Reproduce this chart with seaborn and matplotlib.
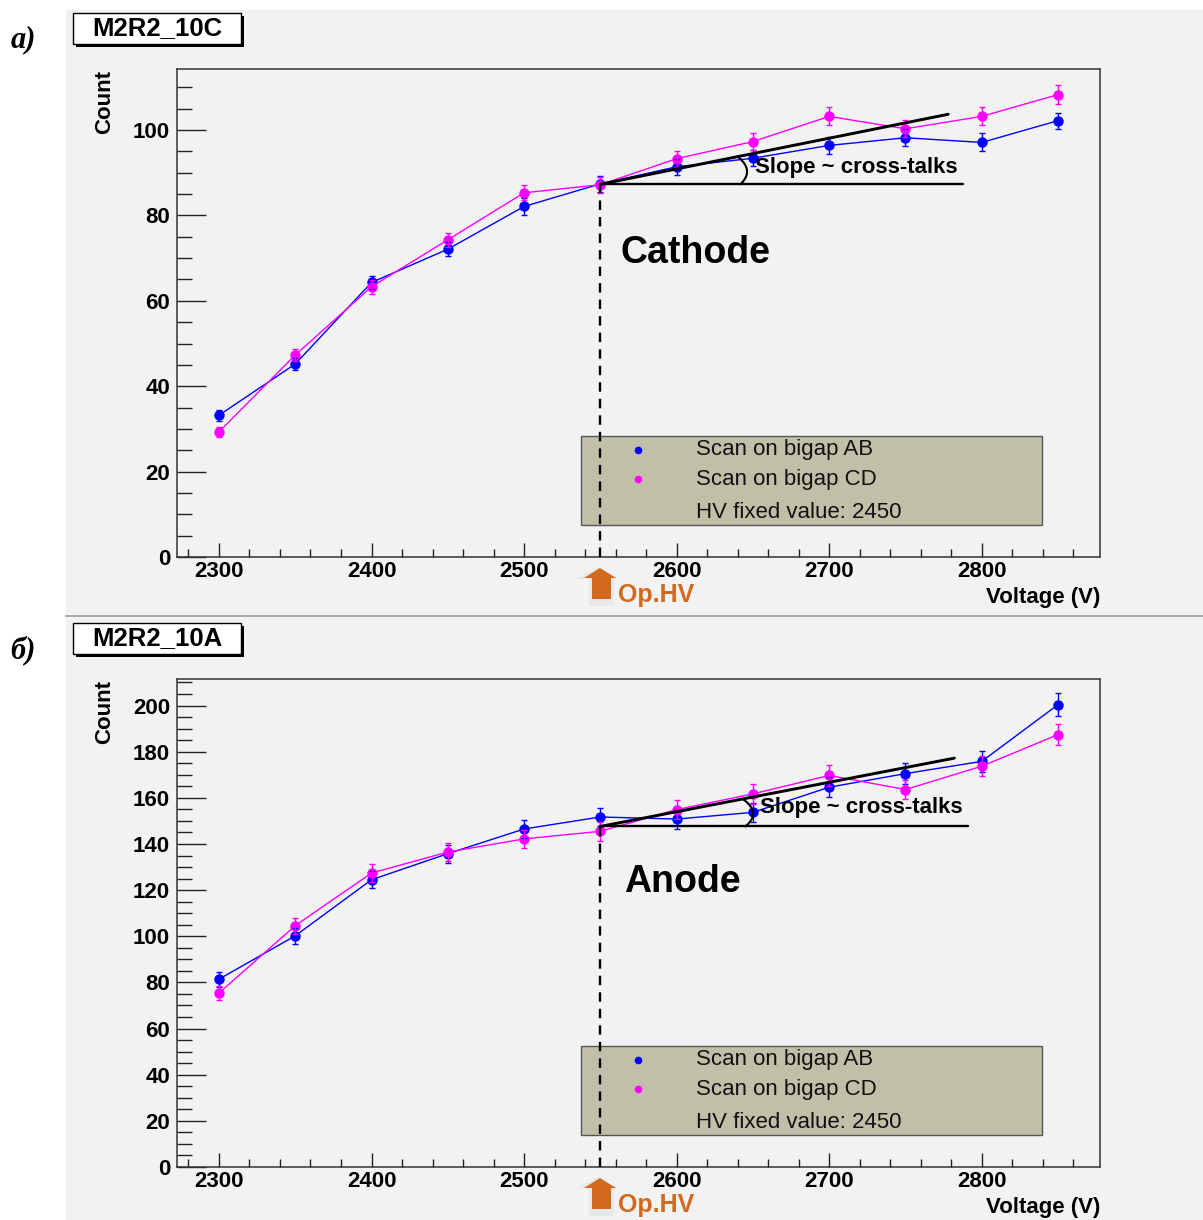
import numpy as np
import pandas as pd
import matplotlib
matplotlib.use("Agg")
import matplotlib.pyplot as plt
import seaborn as sns
from matplotlib.patches import Rectangle, Polygon
from matplotlib.lines import Line2D
from matplotlib.ticker import MultipleLocator

# ---------------- data ----------------
voltage = [2300, 2350, 2400, 2450, 2500, 2550, 2600, 2650, 2700, 2750, 2800, 2850]

cathode_ab = [33.2, 45.2, 64.3, 72.1, 82.1, 87.4, 91.4, 93.4, 96.4, 98.2, 97.1, 102.2]
cathode_ab_err = [1.3, 1.4, 1.6, 1.7, 1.9, 1.9, 1.9, 1.9, 2.0, 2.0, 2.1, 1.9]
cathode_cd = [29.3, 47.3, 63.3, 74.3, 85.3, 87.2, 93.3, 97.3, 103.2, 100.3, 103.2, 108.3]
cathode_cd_err = [1.1, 1.4, 1.6, 1.7, 1.8, 1.9, 1.9, 2.0, 2.1, 2.0, 2.1, 2.3]

anode_ab = [81.4, 100.2, 124.5, 135.8, 146.5, 151.7, 150.8, 153.7, 164.6, 170.5, 175.8, 200.4]
anode_ab_err = [3.3, 3.5, 3.7, 3.9, 4.0, 4.1, 4.1, 4.2, 4.3, 4.4, 4.4, 4.9]
anode_cd = [75.4, 104.6, 127.4, 136.5, 142.2, 145.5, 154.9, 161.7, 169.7, 163.6, 173.7, 187.4]
anode_cd_err = [3.2, 3.5, 3.8, 3.9, 4.0, 4.1, 4.2, 4.3, 4.4, 4.3, 4.4, 4.7]

series_names = ["Scan on bigap AB", "Scan on bigap CD"]
series_colors = ["#0000FF", "#FF00FF"]
hv_note = "HV fixed value: 2450"
op_hv = 2550

# ---------------- style ----------------
sns.set_style("ticks")
plt.rcParams["font.family"] = ["Liberation Sans", "DejaVu Sans"]
plt.rcParams["font.weight"] = "bold"

FIG_W, FIG_H = 1203, 1220
fig = plt.figure(figsize=(FIG_W / 100, FIG_H / 100), dpi=100)
fig.patch.set_facecolor("white")
PANEL_BG = "#F2F2F2"
ORANGE = "#D2691E"


def fx(px):
    return px / FIG_W


def fy(py):
    return 1 - py / FIG_H


def fig_rect(x0, y0, x1, y1, **kw):
    r = Rectangle((fx(x0), fy(y1)), fx(x1) - fx(x0), fy(y0) - fy(y1),
                  transform=fig.transFigure, **kw)
    fig.patches.append(r)


def fig_poly(pts, **kw):
    p = Polygon([(fx(x), fy(y)) for x, y in pts], closed=True,
                transform=fig.transFigure, **kw)
    fig.patches.append(p)


# panel backgrounds and separator (behind the axes)
fig_rect(66, 10, 1203, 614, facecolor=PANEL_BG, edgecolor="none", zorder=-5)
fig_rect(66, 618, 1203, 1220, facecolor=PANEL_BG, edgecolor="none", zorder=-5)
fig.lines.append(Line2D([fx(66), 1], [fy(615.5), fy(615.5)], transform=fig.transFigure,
                        color="#A8A8A8", lw=1.6, zorder=-4))

panels = [
    dict(top=69, ymax=114.3, title="M2R2_10C", tag="a)", part="Cathode",
         ab=cathode_ab, ab_err=cathode_ab_err, cd=cathode_cd, cd_err=cathode_cd_err,
         anchor=87.3, slope_end=(2778, 103.7), flat_end=2788, radius=140, bulge=8,
         slope_txt=(755, 167), part_txt=(620, 253)),
    dict(top=679, ymax=211.5, title="M2R2_10A", tag="б)", part="Anode",
         ab=anode_ab, ab_err=anode_ab_err, cd=anode_cd, cd_err=anode_cd_err,
         anchor=147.6, slope_end=(2782, 177.2), flat_end=2791, radius=145, bulge=9,
         slope_txt=(760, 808), part_txt=(624, 882)),
]

AX_LEFT, AX_RIGHT, AX_H = 177, 1100, 488

for p in panels:
    top = p["top"]
    bottom = top + AX_H
    ax = fig.add_axes([fx(AX_LEFT), fy(bottom), fx(AX_RIGHT) - fx(AX_LEFT), AX_H / FIG_H])
    ax.set_facecolor(PANEL_BG)

    df = pd.DataFrame({
        "Voltage": voltage * 2,
        "Count": p["ab"] + p["cd"],
        "Scan": [series_names[0]] * len(voltage) + [series_names[1]] * len(voltage),
    })
    sns.lineplot(data=df, x="Voltage", y="Count", hue="Scan",
                 palette=dict(zip(series_names, series_colors)),
                 marker="o", markersize=7.5, markeredgewidth=0, lw=1.0,
                 errorbar=None, legend=False, ax=ax, zorder=3)
    for vals, errs, col in [(p["ab"], p["ab_err"], series_colors[0]),
                            (p["cd"], p["cd_err"], series_colors[1])]:
        ax.errorbar(voltage, vals, yerr=errs, fmt="none", ecolor=col,
                    elinewidth=1.0, capsize=2.5, capthick=1.0, zorder=3)

    ax.set_xlim(2272.5, 2877.5)
    ax.set_ylim(0, p["ymax"])
    ax.set_xlabel("")
    ax.set_ylabel("")

    # axes frame and ticks
    for side in ["top", "right", "left", "bottom"]:
        ax.spines[side].set_visible(True)
        ax.spines[side].set_color("#333333")
        ax.spines[side].set_linewidth(1.1)
    ax.xaxis.set_major_locator(MultipleLocator(100))
    ax.xaxis.set_minor_locator(MultipleLocator(20))
    ax.yaxis.set_major_locator(MultipleLocator(20))
    ax.yaxis.set_minor_locator(MultipleLocator(5))
    ax.tick_params(axis="y", which="major", direction="in", length=21, width=1.0,
                   pad=5, labelsize=16, colors="#222222", labelcolor="black")
    ax.tick_params(axis="y", which="minor", direction="in", length=10.5, width=1.0,
                   colors="#222222")
    ax.tick_params(axis="x", which="major", direction="in", length=10, width=1.0,
                   pad=3, labelsize=16, colors="#222222", labelcolor="black")
    ax.tick_params(axis="x", which="minor", direction="in", length=5.5, width=1.0,
                   colors="#222222")
    ax.tick_params(top=False, right=False, which="both")

    # legend box
    def axf(X, Y):
        return (X - AX_LEFT) / (AX_RIGHT - AX_LEFT), (bottom - Y) / AX_H

    lx0, ly0 = axf(581, top + 456)
    lx1, ly1 = axf(1042, top + 367)
    ax.add_patch(Rectangle((lx0, ly0), lx1 - lx0, ly1 - ly0, transform=ax.transAxes,
                           facecolor="#C2BFA9", edgecolor="#555555", lw=1.0, zorder=4))
    mx, _ = axf(638, 0)
    tx, _ = axf(696, 0)
    rows = [top + 381, top + 410, top + 443]
    for i, (name, col) in enumerate(zip(series_names, series_colors)):
        _, ry = axf(0, rows[i])
        ax.plot([mx], [ry], "o", color=col, ms=5.5, mew=0, transform=ax.transAxes, zorder=5)
        ax.text(tx, ry, name, transform=ax.transAxes, ha="left", va="center",
                fontsize=16, fontweight="normal", color="#111111", zorder=5)
    _, ry = axf(0, rows[2])
    ax.text(tx, ry, hv_note, transform=ax.transAxes, ha="left", va="center",
            fontsize=16, fontweight="normal", color="#111111", zorder=5)

    # operating HV marker line
    ax.plot([op_hv, op_hv], [0, p["anchor"]], color="black", lw=1.7,
            ls=(0, (4, 3)), zorder=6)

    # slope construction: sloped line, flat reference line and the angle mark
    v_end, c_end = p["slope_end"]
    ax.plot([op_hv, v_end], [p["anchor"], c_end], color="black", lw=2.1, zorder=6)
    ax.plot([op_hv, p["flat_end"]], [p["anchor"], p["anchor"]], color="black", lw=1.7, zorder=6)
    p0 = ax.transData.transform((op_hv, p["anchor"]))
    p1 = ax.transData.transform((v_end, c_end))
    ang = np.arctan2(p1[1] - p0[1], p1[0] - p0[0])
    r = p["radius"]
    a0 = p0 + np.array([r, 0.0])
    a1 = p0 + r * np.array([np.cos(ang), np.sin(ang)])
    ctrl = (a0 + a1) / 2 + np.array([2 * p["bulge"], 0.0])
    s = np.linspace(0, 1, 40)[:, None]
    curve = (1 - s) ** 2 * a0 + 2 * s * (1 - s) * ctrl + s ** 2 * a1
    arc = ax.transData.inverted().transform(curve)
    ax.plot(arc[:, 0], arc[:, 1], color="black", lw=1.5, zorder=6)

    sx, sy = axf(*p["slope_txt"])
    ax.text(sx, sy, "Slope ~ cross-talks", transform=ax.transAxes, ha="left",
            va="center", fontsize=16, color="black", zorder=7)
    cx, cy = axf(*p["part_txt"])
    ax.text(cx, cy, p["part"], transform=ax.transAxes, ha="left", va="center",
            fontsize=27, color="black", zorder=7)

    # axis titles
    fig.text(fx(105), fy(top + 1), "Count", rotation=90, ha="center", va="top",
             fontsize=16, color="black")
    fig.text(fx(AX_RIGHT), fy(bottom + 40), "Voltage (V)", ha="right", va="center",
             fontsize=16, color="black")

    # Op.HV arrow
    base = bottom + 11
    fig_poly([(589, base + 38), (589, base + 11), (575, base + 11), (598, base - 1),
              (619, base + 11), (614, base + 11), (614, base + 38)],
             facecolor="#E8E8E8", edgecolor="none", zorder=2)
    fig_poly([(592, base + 31), (592, base + 10), (584, base + 10), (600, base),
              (616, base + 10), (611, base + 10), (611, base + 31)],
             facecolor=ORANGE, edgecolor="none", zorder=3)
    fig.text(fx(618), fy(base + 27), "Op.HV", ha="left", va="center",
             fontsize=18, color=ORANGE)

    # histogram title box with shadow
    ty0 = top - 56
    fig_rect(76, ty0 + 3, 244, ty0 + 34, facecolor="black", edgecolor="none", zorder=2)
    fig_rect(73, ty0, 241, ty0 + 31, facecolor="white", edgecolor="black", lw=1.0, zorder=3)
    fig.text(fx(157), fy(ty0 + 15.5), p["title"], ha="center", va="center",
             fontsize=18.5, color="black")

    # panel tag
    fig.text(fx(23), fy(top - 29), p["tag"], ha="center", va="center",
             fontsize=22, fontstyle="italic", fontweight="bold",
             family=["Liberation Serif", "DejaVu Serif"], color="black")

fig.savefig("out.png", dpi=100, facecolor="white")
